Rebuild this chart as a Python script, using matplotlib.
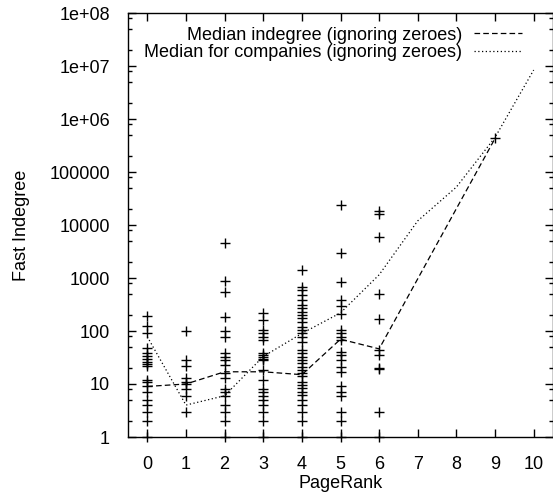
import numpy as np
import matplotlib
matplotlib.use("Agg")
import matplotlib.pyplot as plt
from matplotlib.ticker import FixedLocator, FuncFormatter

plt.rcParams['font.family'] = ['Liberation Sans', 'DejaVu Sans']

# ---- data ----
ranks = [0, 1, 2, 3, 4, 5, 6, 9]
indegree = {
    0: [190, 126, 91, 47, 39, 34, 29, 26, 24, 22, 12, 11, 9, 7, 5, 4, 3, 2, 1],
    1: [100, 28, 22, 13, 11, 10, 8, 6, 3],
    2: [4500, 890, 550, 186, 100, 78, 39, 32, 28, 23, 16, 13, 8, 7, 6, 4, 3, 2, 1],
    3: [222, 162, 105, 90, 78, 68, 38, 35, 32, 30, 28, 18, 12, 8, 7, 6, 5, 4, 3, 2, 1],
    4: [1400, 690, 590, 480, 385, 310, 270, 230, 200, 174, 150, 120, 105, 91, 78,
        63, 44, 38, 33, 28, 25, 21, 18, 16, 14, 11, 9.6, 8.3, 7.1, 6.2, 5, 4, 3, 2, 1],
    5: [24000, 3000, 830, 385, 290, 210, 105, 91, 78, 68, 41, 35, 28, 21, 17,
        9, 7, 6, 3, 2, 1],
    6: [18000, 16000, 6000, 500, 170, 44, 35, 20, 19, 3, 1],
    9: [430000],
}

median_x = [0, 1, 2, 3, 4, 5, 6, 9]
median_all = [9, 10, 17, 17, 15, 70, 46, 430000]

company_x = [0, 1, 2, 3, 4, 5, 6, 7, 8, 9, 10]
median_companies = [78, 4, 6, 33, 90, 220, 1150, 12000, 52000, 450000, 8.4e6]

xticks = list(range(0, 11))
yticks = [1, 10, 100, 1000, 1e4, 1e5, 1e6, 1e7, 1e8]

FS = 13

# ---- figure ----
fig = plt.figure(figsize=(5.53, 4.95), dpi=100)
ax = fig.add_axes([128 / 553, 1 - 437 / 495, (553 - 128) / 553, (437 - 13) / 495])

for r in ranks:
    vals = indegree[r]
    ax.plot([r] * len(vals), vals, linestyle='none', marker='+',
            color='black', markersize=7, markeredgewidth=1.0, clip_on=False)

ax.plot(median_x, median_all, color='black', linewidth=0.9,
        dashes=(4.5, 2.5), label='Median indegree (ignoring zeroes)')
ax.plot(company_x, median_companies, color='black', linewidth=0.9,
        dashes=(1, 2), label='Median for companies (ignoring zeroes)')

ax.set_yscale('log')
ax.set_xlim(-0.5, 10.5)
ax.set_ylim(1, 1e8)

ax.xaxis.set_major_locator(FixedLocator(xticks))
ax.yaxis.set_major_locator(FixedLocator(yticks))
minors = [m * 10.0 ** e for e in range(0, 8) for m in (2, 5, 8)]
ax.yaxis.set_minor_locator(FixedLocator(minors))
ax.yaxis.set_major_formatter(FuncFormatter(lambda v, p: '%g' % v))
ax.yaxis.set_minor_formatter(FuncFormatter(lambda v, p: ''))

ax.tick_params(which='both', direction='in', top=True, right=True,
               labelsize=FS, width=1.0)
ax.tick_params(which='major', length=6)
ax.tick_params(which='minor', length=3)
ax.tick_params(axis='y', pad=13)
ax.tick_params(axis='x', pad=14)

for s in ax.spines.values():
    s.set_linewidth(1.0)

ax.set_xlabel('PageRank', fontsize=FS, labelpad=1)
ax.set_ylabel('Fast Indegree', fontsize=FS, labelpad=14)

ax.legend(loc='upper right', frameon=False, markerfirst=False, fontsize=FS,
          handlelength=2.7, handletextpad=0.65, labelspacing=0.02,
          borderaxespad=0.0, bbox_to_anchor=(0.945, 0.985))

fig.savefig('out.png', dpi=100)
